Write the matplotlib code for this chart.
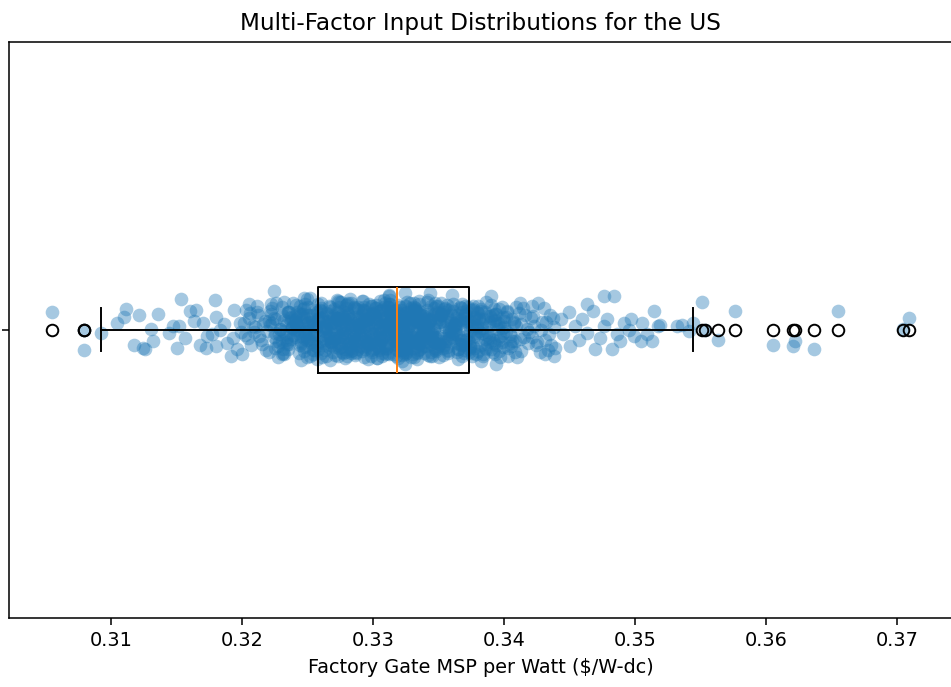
"""Jittered strip plot plus box plot of the US factory gate MSP samples."""
import matplotlib

matplotlib.use("Agg")
import matplotlib.pyplot as plt
import numpy as np

DPI = 139

# box plot summary ($/W-dc)
box_stats = {
    "whislo": 0.3092,
    "q1": 0.3258,
    "med": 0.3318,
    "q3": 0.3373,
    "whishi": 0.3544,
}
flier_values = [0.3055, 0.3079, 0.3079, 0.3551, 0.3553, 0.3563, 0.3576,
                0.3605, 0.3620, 0.3622, 0.3636, 0.3655, 0.3704, 0.3709]

# sparse left tail of the samples and their vertical jitter
left_x = [0.3055, 0.3079, 0.3079, 0.3092, 0.3104, 0.3111, 0.3110, 0.3121, 0.3117, 0.3126,
          0.3124, 0.3132, 0.3136, 0.3130, 0.3144, 0.3150, 0.3153, 0.3152, 0.3156, 0.3160,
          0.3165, 0.3163, 0.3170, 0.3168, 0.3172, 0.3179, 0.3180, 0.3177, 0.3191, 0.3188,
          0.3194, 0.3198, 0.3147, 0.3173, 0.3180, 0.3183, 0.3193, 0.3196, 0.3186, 0.3199]
left_y = [0.031, 0.000, -0.036, -0.005, 0.012, 0.036, 0.023, 0.025, -0.026, -0.034,
          -0.031, -0.020, 0.027, 0.002, -0.005, -0.031, 0.054, 0.006, -0.014, 0.032,
          0.035, 0.015, 0.012, -0.026, -0.031, 0.051, 0.023, -0.008, -0.045, -0.023,
          0.035, 0.012, 0.006, -0.011, -0.028, 0.000, -0.014, -0.034, 0.010, -0.004]

# points sitting on the upper / lower edge of the dense band
edge_x = [0.3205, 0.3211, 0.3224, 0.3226, 0.3230, 0.3247, 0.3249, 0.3273, 0.3267, 0.3305,
          0.3312, 0.3324, 0.3324, 0.3343, 0.3360, 0.3390, 0.3382, 0.3394, 0.3412, 0.3413]
edge_y = [0.044, 0.030, 0.067, 0.047, -0.043, 0.056, 0.053, 0.050, -0.052, 0.050,
          0.061, 0.064, -0.060, 0.064, 0.061, 0.058, -0.055, -0.060, 0.047, -0.037]

# dense core of the distribution
core_x = [
    0.3201, 0.3207, 0.3203, 0.3209, 0.3205, 0.3200, 0.3208, 0.3204, 0.3206, 0.3202,
    0.3214, 0.3210, 0.3218, 0.3212, 0.3216, 0.3219, 0.3211, 0.3215, 0.3217, 0.3213,
    0.3222, 0.3228, 0.3220, 0.3225, 0.3229, 0.3223, 0.3226, 0.3221, 0.3227, 0.3224,
    0.3225, 0.3221, 0.3228, 0.3223, 0.3220, 0.3226, 0.3229, 0.3224, 0.3222, 0.3227,
    0.3233, 0.3237, 0.3230, 0.3235, 0.3239, 0.3231, 0.3236, 0.3234, 0.3238, 0.3232,
    0.3236, 0.3232, 0.3239, 0.3230, 0.3234, 0.3237, 0.3231, 0.3238, 0.3233, 0.3235,
    0.3241, 0.3247, 0.3243, 0.3249, 0.3245, 0.3240, 0.3248, 0.3244, 0.3246, 0.3242,
    0.3244, 0.3240, 0.3248, 0.3242, 0.3246, 0.3249, 0.3241, 0.3245, 0.3247, 0.3243,
    0.3242, 0.3248, 0.3240, 0.3245, 0.3249, 0.3243, 0.3246, 0.3241, 0.3247, 0.3244,
    0.3255, 0.3251, 0.3258, 0.3253, 0.3250, 0.3256, 0.3259, 0.3254, 0.3252, 0.3257,
    0.3253, 0.3257, 0.3250, 0.3255, 0.3259, 0.3251, 0.3256, 0.3254, 0.3258, 0.3252,
    0.3256, 0.3252, 0.3259, 0.3250, 0.3254, 0.3257, 0.3251, 0.3258, 0.3253, 0.3255,
    0.3261, 0.3267, 0.3263, 0.3269, 0.3265, 0.3260, 0.3268, 0.3264, 0.3266, 0.3262,
    0.3264, 0.3260, 0.3268, 0.3262, 0.3266, 0.3269, 0.3261, 0.3265, 0.3267, 0.3263,
    0.3262, 0.3268, 0.3260, 0.3265, 0.3269, 0.3263, 0.3266, 0.3261, 0.3267, 0.3264,
    0.3275, 0.3271, 0.3278, 0.3273, 0.3270, 0.3276, 0.3279, 0.3274, 0.3272, 0.3277,
    0.3273, 0.3277, 0.3270, 0.3275, 0.3279, 0.3271, 0.3276, 0.3274, 0.3278, 0.3272,
    0.3276, 0.3272, 0.3279, 0.3270, 0.3274, 0.3277, 0.3271, 0.3278, 0.3273, 0.3275,
    0.3281, 0.3287, 0.3283, 0.3289, 0.3285, 0.3280, 0.3288, 0.3284, 0.3286, 0.3282,
    0.3284, 0.3280, 0.3288, 0.3282, 0.3286, 0.3289, 0.3281, 0.3285, 0.3287, 0.3283,
    0.3282, 0.3288, 0.3280, 0.3285, 0.3289, 0.3283, 0.3286, 0.3281, 0.3287, 0.3284,
    0.3295, 0.3291, 0.3298, 0.3293, 0.3290, 0.3296, 0.3299, 0.3294, 0.3292, 0.3297,
    0.3293, 0.3297, 0.3290, 0.3295, 0.3299, 0.3291, 0.3296, 0.3294, 0.3298, 0.3292,
    0.3296, 0.3292, 0.3299, 0.3290, 0.3294, 0.3297, 0.3291, 0.3298, 0.3293, 0.3295,
    0.3301, 0.3307, 0.3303, 0.3309, 0.3305, 0.3300, 0.3308, 0.3304, 0.3306, 0.3302,
    0.3304, 0.3300, 0.3308, 0.3302, 0.3306, 0.3309, 0.3301, 0.3305, 0.3307, 0.3303,
    0.3302, 0.3308, 0.3300, 0.3305, 0.3309, 0.3303, 0.3306, 0.3301, 0.3307, 0.3304,
    0.3315, 0.3311, 0.3318, 0.3313, 0.3310, 0.3316, 0.3319, 0.3314, 0.3312, 0.3317,
    0.3313, 0.3317, 0.3310, 0.3315, 0.3319, 0.3311, 0.3316, 0.3314, 0.3318, 0.3312,
    0.3316, 0.3312, 0.3319, 0.3310, 0.3314, 0.3317, 0.3311, 0.3318, 0.3313, 0.3315,
    0.3311, 0.3317, 0.3313, 0.3319, 0.3315, 0.3310, 0.3318, 0.3314, 0.3316, 0.3312,
    0.3324, 0.3320, 0.3328, 0.3322, 0.3326, 0.3329, 0.3321, 0.3325, 0.3327, 0.3323,
    0.3322, 0.3328, 0.3320, 0.3325, 0.3329, 0.3323, 0.3326, 0.3321, 0.3327, 0.3324,
    0.3325, 0.3321, 0.3328, 0.3323, 0.3320, 0.3326, 0.3329, 0.3324, 0.3322, 0.3327,
    0.3323, 0.3327, 0.3320, 0.3325, 0.3329, 0.3321, 0.3326, 0.3324, 0.3328, 0.3322,
    0.3336, 0.3332, 0.3339, 0.3330, 0.3334, 0.3337, 0.3331, 0.3338, 0.3333, 0.3335,
    0.3331, 0.3337, 0.3333, 0.3339, 0.3335, 0.3330, 0.3338, 0.3334, 0.3336, 0.3332,
    0.3334, 0.3330, 0.3338, 0.3332, 0.3336, 0.3339, 0.3331, 0.3335, 0.3337, 0.3333,
    0.3332, 0.3338, 0.3330, 0.3335, 0.3339, 0.3333, 0.3336, 0.3331, 0.3337, 0.3334,
    0.3345, 0.3341, 0.3348, 0.3343, 0.3340, 0.3346, 0.3349, 0.3344, 0.3342, 0.3347,
    0.3343, 0.3347, 0.3340, 0.3345, 0.3349, 0.3341, 0.3346, 0.3344, 0.3348, 0.3342,
    0.3346, 0.3342, 0.3349, 0.3340, 0.3344, 0.3347, 0.3341, 0.3348, 0.3343, 0.3345,
    0.3351, 0.3357, 0.3353, 0.3359, 0.3355, 0.3350, 0.3358, 0.3354, 0.3356, 0.3352,
    0.3354, 0.3350, 0.3358, 0.3352, 0.3356, 0.3359, 0.3351, 0.3355, 0.3357, 0.3353,
    0.3352, 0.3358, 0.3350, 0.3355, 0.3359, 0.3353, 0.3356, 0.3351, 0.3357, 0.3354,
    0.3365, 0.3361, 0.3368, 0.3363, 0.3360, 0.3366, 0.3369, 0.3364, 0.3362, 0.3367,
    0.3363, 0.3367, 0.3360, 0.3365, 0.3369, 0.3361, 0.3366, 0.3364, 0.3368, 0.3362,
    0.3366, 0.3362, 0.3369, 0.3360, 0.3364, 0.3367, 0.3361, 0.3368, 0.3363, 0.3365,
    0.3371, 0.3377, 0.3373, 0.3379, 0.3375, 0.3370, 0.3378, 0.3374, 0.3376, 0.3372,
    0.3374, 0.3370, 0.3378, 0.3372, 0.3376, 0.3379, 0.3371, 0.3375, 0.3377, 0.3373,
    0.3372, 0.3378, 0.3370, 0.3375, 0.3379, 0.3373, 0.3376, 0.3371, 0.3377, 0.3374,
    0.3385, 0.3381, 0.3388, 0.3383, 0.3380, 0.3386, 0.3389, 0.3384, 0.3382, 0.3387,
    0.3383, 0.3387, 0.3380, 0.3385, 0.3389, 0.3381, 0.3386, 0.3384, 0.3388, 0.3382,
    0.3396, 0.3392, 0.3399, 0.3390, 0.3394, 0.3397, 0.3391, 0.3398, 0.3393, 0.3395,
    0.3391, 0.3397, 0.3393, 0.3399, 0.3395, 0.3390, 0.3398, 0.3394, 0.3396, 0.3392,
    0.3404, 0.3400, 0.3408, 0.3402, 0.3406, 0.3409, 0.3401, 0.3405, 0.3407, 0.3403,
    0.3402, 0.3408, 0.3400, 0.3405, 0.3409, 0.3403, 0.3406, 0.3401, 0.3407, 0.3404,
    0.3415, 0.3411, 0.3418, 0.3413, 0.3410, 0.3416, 0.3419, 0.3414, 0.3412, 0.3417,
    0.3423, 0.3427, 0.3420, 0.3425, 0.3429, 0.3421, 0.3426, 0.3424, 0.3428, 0.3422,
    0.3436, 0.3432, 0.3439, 0.3430, 0.3434, 0.3437, 0.3431, 0.3438, 0.3433, 0.3435,
]
core_y = [
    0.012, -0.027, 0.035, -0.004, 0.021, -0.043, 0.006, -0.015, 0.029, -0.009,
    -0.018, 0.004, -0.036, 0.025, 0.010, -0.002, 0.041, -0.024, 0.016, -0.011,
    0.027, -0.008, 0.015, -0.031, 0.002, 0.038, -0.019, 0.009, -0.047, 0.020,
    -0.005, 0.033, -0.022, 0.011, -0.039, 0.018, 0.001, -0.013, 0.044, -0.028,
    0.008, -0.016, 0.026, -0.034, 0.014, -0.003, 0.030, -0.021, 0.005, 0.049,
    -0.025, 0.017, -0.009, 0.039, -0.012, 0.023, -0.041, 0.003, -0.018, 0.031,
    0.019, -0.037, 0.007, -0.014, 0.028, -0.001, 0.045, -0.026, 0.013, -0.006,
    -0.010, 0.024, -0.030, 0.002, 0.036, -0.017, 0.011, -0.052, 0.022, -0.003,
    0.031, -0.007, 0.016, -0.023, 0.004, -0.040, 0.027, 0.010, -0.015, 0.042,
    -0.020, 0.009, -0.033, 0.018, -0.002, 0.034, -0.011, 0.025, -0.045, 0.006,
    0.014, -0.029, 0.040, -0.008, 0.021, -0.016, 0.003, -0.036, 0.017, 0.055,
    -0.003, 0.026, -0.019, 0.012, -0.042, 0.030, -0.007, 0.019, -0.024, 0.008,
    0.022, -0.012, 0.005, -0.038, 0.015, 0.047, -0.021, 0.001, -0.030, 0.013,
    -0.014, 0.037, -0.026, 0.007, -0.005, 0.020, -0.048, 0.028, 0.010, -0.017,
    0.003, -0.022, 0.032, -0.011, 0.024, -0.035, 0.016, -0.001, 0.039, -0.027,
    -0.030, 0.011, -0.006, 0.029, -0.019, 0.002, 0.043, -0.013, 0.021, -0.040,
    0.017, -0.004, 0.036, -0.025, 0.009, -0.014, 0.026, -0.032, 0.000, 0.051,
    -0.008, 0.021, -0.039, 0.014, -0.023, 0.033, -0.002, 0.018, -0.046, 0.006,
    0.025, -0.018, 0.008, -0.029, 0.040, -0.010, 0.013, -0.035, 0.004, -0.021,
    -0.016, 0.030, -0.003, 0.019, -0.044, 0.010, -0.025, 0.037, -0.007, 0.015,
    0.009, -0.033, 0.023, -0.012, 0.005, 0.046, -0.020, 0.028, -0.038, 0.001,
    -0.023, 0.014, -0.045, 0.032, -0.009, 0.018, 0.003, -0.028, 0.012, -0.015,
    0.035, -0.001, 0.019, -0.020, 0.027, -0.037, 0.008, -0.011, 0.042, -0.030,
    -0.011, 0.028, -0.016, 0.004, -0.034, 0.022, 0.050, -0.006, 0.015, -0.024,
    0.006, -0.041, 0.013, -0.027, 0.033, -0.008, 0.020, 0.001, -0.019, 0.038,
    -0.027, 0.018, -0.010, 0.043, -0.015, 0.007, -0.032, 0.024, -0.004, 0.011,
    0.020, -0.013, 0.029, -0.006, 0.010, -0.049, 0.035, -0.021, 0.002, -0.036,
    -0.001, 0.040, -0.024, 0.016, -0.031, 0.005, -0.014, 0.026, -0.043, 0.019,
    0.029, -0.020, 0.002, -0.042, 0.018, 0.032, -0.009, 0.012, -0.026, 0.008,
    -0.019, 0.007, -0.035, 0.023, -0.004, 0.015, 0.039, -0.017, 0.030, -0.012,
    0.011, -0.026, 0.044, -0.018, 0.001, -0.033, 0.021, -0.007, 0.014, 0.058,
    -0.033, 0.016, -0.012, 0.009, 0.031, -0.022, 0.004, -0.040, 0.025, -0.002,
    0.016, -0.009, 0.025, -0.037, 0.012, -0.003, 0.048, -0.024, 0.006, -0.016,
    -0.006, 0.034, -0.021, 0.000, -0.029, 0.019, -0.011, 0.041, -0.044, 0.023,
    0.024, -0.015, 0.010, -0.032, 0.037, -0.005, 0.017, -0.027, 0.003, -0.054,
    -0.012, 0.022, -0.041, 0.028, -0.017, 0.009, 0.033, -0.001, -0.023, 0.014,
    0.001, -0.030, 0.018, -0.009, 0.045, -0.020, 0.006, -0.036, 0.027, -0.013,
    -0.028, 0.012, -0.005, 0.035, -0.014, 0.024, -0.047, 0.016, -0.002, 0.030,
    0.033, -0.011, 0.021, -0.025, 0.007, -0.039, 0.013, 0.040, -0.018, 0.004,
    -0.004, 0.027, -0.034, 0.015, -0.022, 0.001, 0.029, -0.012, 0.052, -0.031,
    0.018, -0.023, 0.006, -0.045, 0.023, -0.008, 0.038, -0.016, 0.011, -0.001,
    -0.021, 0.005, -0.028, 0.020, 0.042, -0.013, 0.010, -0.037, 0.017, -0.007,
    0.013, -0.036, 0.031, -0.003, 0.016, -0.025, 0.002, 0.036, -0.019, 0.025,
    -0.015, 0.019, -0.008, 0.047, -0.030, 0.011, -0.020, 0.005, -0.041, 0.028,
    0.028, -0.002, 0.014, -0.019, 0.003, -0.044, 0.024, -0.010, 0.034, -0.026,
    -0.009, 0.032, -0.027, 0.008, -0.013, 0.039, -0.035, 0.017, 0.000, -0.018,
    0.005, -0.017, 0.037, -0.033, 0.020, -0.006, 0.012, -0.023, 0.044, 0.009,
    -0.024, 0.010, -0.001, 0.026, -0.038, 0.017, -0.015, 0.031, -0.008, -0.050,
    0.021, -0.031, 0.009, -0.012, 0.034, -0.024, 0.003, 0.015, -0.029, 0.040,
    -0.002, 0.025, -0.043, 0.013, -0.007, 0.030, -0.018, 0.006, 0.022, -0.034,
    0.015, -0.005, 0.027, -0.040, 0.008, -0.021, 0.041, -0.011, 0.019, -0.028,
    -0.031, 0.020, -0.014, 0.003, 0.029, -0.009, 0.014, -0.046, 0.036, -0.004,
    0.010, -0.024, 0.041, -0.016, 0.024, -0.002, -0.033, 0.018, -0.010, 0.032,
    -0.017, 0.036, -0.006, 0.021, -0.027, 0.012, -0.039, 0.003, 0.027, -0.014,
    0.026, -0.010, 0.017, -0.030, 0.001, 0.043, -0.022, 0.009, -0.037, 0.016,
    -0.007, 0.015, -0.038, 0.030, -0.019, 0.006, 0.022, -0.028, 0.011, -0.045,
    0.032, -0.019, 0.004, -0.010, 0.039, -0.031, 0.019, -0.003, 0.013, -0.023,
    -0.013, 0.029, -0.023, 0.010, -0.048, 0.025, -0.004, 0.037, -0.016, 0.002,
    0.007, -0.039, 0.020, -0.021, 0.014, -0.012, 0.046, -0.026, 0.000, 0.024,
    -0.026, 0.013, -0.031, 0.038, -0.008, 0.020, -0.017, 0.004, -0.035, 0.026,
]

# second layer of the core (inside the box), where the cloud is solid
core2_x = [
    0.3231, 0.3236, 0.3233, 0.3239, 0.3230, 0.3235, 0.3238, 0.3232, 0.3237, 0.3234,
    0.3247, 0.3240, 0.3244, 0.3249, 0.3242, 0.3246, 0.3241, 0.3248, 0.3243, 0.3245,
    0.3253, 0.3258, 0.3255, 0.3251, 0.3257, 0.3250, 0.3254, 0.3259, 0.3256, 0.3252,
    0.3265, 0.3260, 0.3268, 0.3262, 0.3266, 0.3269, 0.3261, 0.3264, 0.3267, 0.3263,
    0.3271, 0.3276, 0.3273, 0.3279, 0.3270, 0.3275, 0.3278, 0.3272, 0.3277, 0.3274,
    0.3277, 0.3270, 0.3274, 0.3279, 0.3272, 0.3276, 0.3271, 0.3278, 0.3273, 0.3275,
    0.3283, 0.3288, 0.3285, 0.3281, 0.3287, 0.3280, 0.3284, 0.3289, 0.3286, 0.3282,
    0.3285, 0.3280, 0.3288, 0.3282, 0.3286, 0.3289, 0.3281, 0.3284, 0.3287, 0.3283,
    0.3291, 0.3296, 0.3293, 0.3299, 0.3290, 0.3295, 0.3298, 0.3292, 0.3297, 0.3294,
    0.3297, 0.3290, 0.3294, 0.3299, 0.3292, 0.3296, 0.3291, 0.3298, 0.3293, 0.3295,
    0.3303, 0.3308, 0.3305, 0.3301, 0.3307, 0.3300, 0.3304, 0.3309, 0.3306, 0.3302,
    0.3305, 0.3300, 0.3308, 0.3302, 0.3306, 0.3309, 0.3301, 0.3304, 0.3307, 0.3303,
    0.3311, 0.3316, 0.3313, 0.3319, 0.3310, 0.3315, 0.3318, 0.3312, 0.3317, 0.3314,
    0.3317, 0.3310, 0.3314, 0.3319, 0.3312, 0.3316, 0.3311, 0.3318, 0.3313, 0.3315,
    0.3323, 0.3328, 0.3325, 0.3321, 0.3327, 0.3320, 0.3324, 0.3329, 0.3326, 0.3322,
    0.3325, 0.3320, 0.3328, 0.3322, 0.3326, 0.3329, 0.3321, 0.3324, 0.3327, 0.3323,
    0.3331, 0.3336, 0.3333, 0.3339, 0.3330, 0.3335, 0.3338, 0.3332, 0.3337, 0.3334,
    0.3337, 0.3330, 0.3334, 0.3339, 0.3332, 0.3336, 0.3331, 0.3338, 0.3333, 0.3335,
    0.3343, 0.3348, 0.3345, 0.3341, 0.3347, 0.3340, 0.3344, 0.3349, 0.3346, 0.3342,
    0.3345, 0.3340, 0.3348, 0.3342, 0.3346, 0.3349, 0.3341, 0.3344, 0.3347, 0.3343,
    0.3351, 0.3356, 0.3353, 0.3359, 0.3350, 0.3355, 0.3358, 0.3352, 0.3357, 0.3354,
    0.3367, 0.3360, 0.3364, 0.3369, 0.3362, 0.3366, 0.3361, 0.3368, 0.3363, 0.3365,
    0.3373, 0.3378, 0.3375, 0.3371, 0.3377, 0.3370, 0.3374, 0.3379, 0.3376, 0.3372,
    0.3385, 0.3380, 0.3388, 0.3382, 0.3386, 0.3389, 0.3381, 0.3384, 0.3387, 0.3383,
    0.3391, 0.3396, 0.3393, 0.3399, 0.3390, 0.3395, 0.3398, 0.3392, 0.3397, 0.3394,
]
core2_y = [
    -0.034, 0.021, -0.008, 0.046, -0.019, 0.030, 0.003, -0.042, 0.015, -0.025,
    0.038, -0.012, 0.024, -0.047, 0.009, -0.030, 0.043, -0.004, 0.027, -0.020,
    -0.022, 0.045, -0.036, 0.013, -0.050, 0.026, -0.011, 0.035, -0.028, 0.007,
    0.029, -0.040, 0.004, -0.023, 0.041, -0.014, 0.021, -0.045, 0.032, -0.003,
    -0.044, 0.016, -0.027, 0.037, -0.006, 0.048, -0.033, 0.010, -0.017, 0.040,
    0.023, -0.030, 0.049, -0.015, 0.031, -0.038, 0.002, -0.049, 0.018, -0.010,
    -0.037, 0.034, -0.019, 0.005, -0.041, 0.044, -0.026, 0.020, -0.003, 0.053,
    0.012, -0.046, 0.039, -0.031, 0.022, -0.009, 0.047, -0.021, 0.036, -0.040,
    -0.015, 0.028, -0.048, 0.041, -0.002, 0.017, -0.035, 0.050, -0.024, 0.006,
    0.044, -0.020, 0.011, -0.039, 0.035, -0.051, 0.025, -0.007, 0.040, -0.029,
    -0.029, 0.039, -0.013, 0.024, -0.045, 0.008, -0.032, 0.046, -0.018, 0.031,
    0.017, -0.034, 0.052, -0.024, 0.006, -0.042, 0.037, -0.012, 0.027, -0.049,
    -0.041, 0.010, -0.022, 0.043, -0.030, 0.033, -0.005, 0.019, -0.046, 0.038,
    0.034, -0.027, 0.020, -0.049, 0.045, -0.016, 0.008, -0.036, 0.051, -0.006,
    -0.010, 0.047, -0.039, 0.028, -0.020, 0.040, -0.043, 0.014, -0.031, 0.022,
    0.041, -0.014, 0.030, -0.036, 0.016, -0.047, 0.029, -0.025, 0.006, -0.038,
    -0.032, 0.025, -0.050, 0.011, -0.017, 0.050, -0.028, 0.036, -0.008, 0.019,
    0.026, -0.043, 0.014, -0.021, 0.038, -0.033, 0.046, -0.002, -0.040, 0.033,
    -0.046, 0.031, -0.010, 0.049, -0.035, 0.018, -0.024, 0.042, 0.001, -0.019,
    0.019, -0.028, 0.042, -0.044, 0.027, -0.012, 0.034, -0.039, 0.047, -0.004,
    -0.024, 0.043, -0.032, 0.016, -0.048, 0.037, -0.015, 0.025, -0.037, 0.010,
    0.037, -0.008, 0.026, -0.041, 0.012, -0.026, 0.044, -0.045, 0.020, -0.033,
    -0.039, 0.020, -0.046, 0.033, -0.011, 0.041, -0.030, 0.007, 0.036, -0.016,
    0.030, -0.037, 0.009, -0.027, 0.048, -0.021, 0.017, -0.043, 0.024, -0.005,
    -0.018, 0.036, -0.042, 0.022, -0.033, 0.012, 0.039, -0.023, -0.047, 0.028,
]

# right tail, up to the upper whisker
right_x = [0.3421, 0.3431, 0.3438, 0.3443, 0.3445, 0.3449, 0.3450, 0.3454, 0.3457, 0.3459,
           0.3463, 0.3463, 0.3468, 0.3469, 0.3473, 0.3476, 0.3476, 0.3478, 0.3482, 0.3484,
           0.3486, 0.3488, 0.3491, 0.3495, 0.3497, 0.3499, 0.3504, 0.3505, 0.3509, 0.3513,
           0.3514, 0.3517, 0.3519, 0.3532, 0.3536, 0.3541, 0.3544]
right_y = [0.041, -0.043, -0.046, 0.018, -0.008, 0.030, -0.028, 0.006, -0.017, 0.018,
           0.044, -0.005, 0.032, -0.034, -0.014, 0.058, 0.006, 0.018, -0.034, 0.058,
           -0.008, -0.020, 0.012, 0.000, 0.018, -0.011, -0.020, 0.012, -0.008, -0.020,
           0.032, 0.006, 0.009, 0.006, 0.009, -0.002, 0.012]

# high outliers, drawn as jittered points too
outlier_x = [0.3551, 0.3553, 0.3563, 0.3576, 0.3605, 0.3620, 0.3622, 0.3636, 0.3655, 0.3704, 0.3709]
outlier_y = [0.049, 0.000, -0.018, 0.032, -0.026, -0.028, -0.020, -0.034, 0.032, 0.002, 0.021]


def main():
    xs = np.concatenate([left_x, edge_x, core_x, core2_x, right_x, outlier_x])
    jit = np.concatenate([left_y, edge_y, core_y, core2_y, right_y, outlier_y])

    fig = plt.figure(figsize=(951 / DPI, 687 / DPI), dpi=DPI)
    ax = fig.add_axes([9 / 951, 69.5 / 687, 943.5 / 951, 575.5 / 687])

    ax.scatter(xs, 1 + jit, s=50, color="C0", alpha=0.4, linewidths=0)

    stats = dict(box_stats, fliers=flier_values)
    ax.bxp([stats], positions=[1], widths=0.15, orientation="horizontal",
           manage_ticks=False)

    ax.set_xlim(0.30219, 0.37421)
    ax.set_ylim(0.5, 1.5)
    # the category label sits off the left edge in the original, only the tick shows
    ax.set_yticks([1])
    ax.set_yticklabels([""])
    ax.set_xticks([0.31, 0.32, 0.33, 0.34, 0.35, 0.36, 0.37])
    ax.set_title("Multi-Factor Input Distributions for the US")
    ax.set_xlabel("Factory Gate MSP per Watt (\\$/W-dc)")

    fig.savefig("out.png", dpi=DPI)
    plt.close(fig)


if __name__ == "__main__":
    main()
